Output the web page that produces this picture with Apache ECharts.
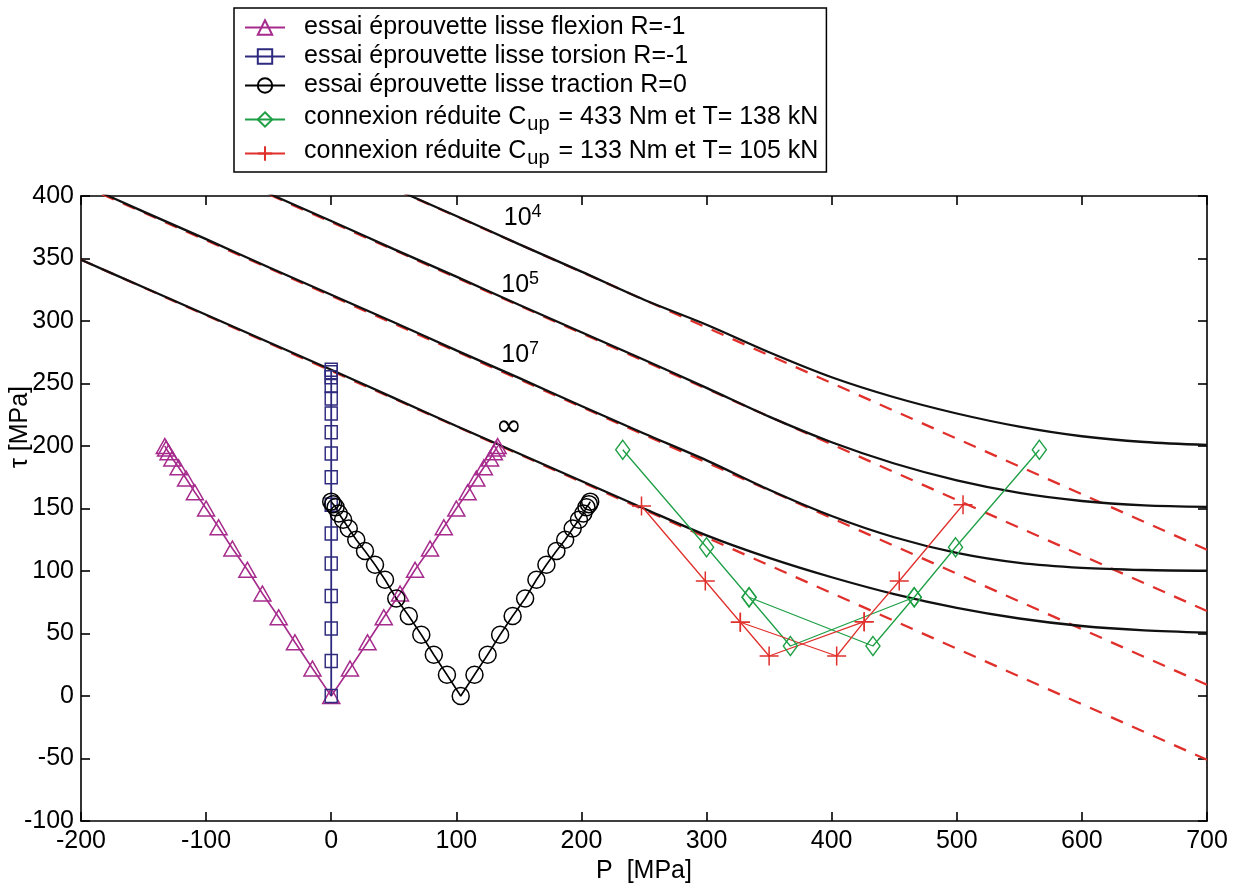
<!DOCTYPE html>
<html><head><meta charset="utf-8">
<script src="https://cdn.jsdelivr.net/npm/echarts@6/dist/echarts.min.js"></script>
<style>html,body{margin:0;padding:0;background:#fff}#c{width:1237px;height:889px}</style>
</head><body><div id="c"></div>
<script>
// ---------- data (P [MPa], tau [MPa]) ----------
const xRange = [-200, 700];
const yRange = [-100, 400];

const flexion = [[-133,200],[-132,198],[-130,195],[-127,190],[-122,183],[-116,174],[-109,163],[-100,150],[-90,135],[-79,118],[-67,101],[-55,82],[-42,63],[-29,43],[-15,22],[0,0],
  [15,22],[29,43],[42,63],[55,82],[67,101],[79,118],[90,135],[100,150],[109,163],[116,174],[122,183],[127,190],[130,195],[132,198],[133,200]];
const torsionTau = [0,28,54,80,106,130,153,175,194,211,226,238,248,255,259,261];
const torsionP = 0;
const traction = [[0,155.5],[1.5,153.5],[3.5,151],[6,146],[9.5,141],[14,134],[20,125],[27,116],[35,105],[43,93],[52,78],[62,64],[72,49],[82,33],[92.5,17],[103.5,0],
  [114.5,17],[125,33],[135,49],[145,64],[155,78],[164,93],[172,105],[180,116],[187,125],[193,134],[198,141],[201.5,146],[204,151],[206,153.5],[207,155.5]];
const green433Main = [[233,197],[300,119],[334,79],[367,40],[466,79],[499,119],[566,197]];
const green433Cross = [[334,79],[433,40],[466,79]];
const red133Main = [[248,152],[299,92],[327,59],[350,32],[426,59.5],[454,92],[505,153]];
const red133Cross = [[327,59],[404,32],[426,59.5]];

// limit curves (black), sampled every 50 MPa, and their linear approximations (red dashed)
const curveP   = [-200,-150,-100,-50,0,50,100,150,200,250,300,350,400,450,500,550,600,650,700];
const curveInf = [349,327,305,283,261,238.5,216,194,172,150,128.5,110.5,95,81.5,70.5,62,56,52.5,50.7];
const curve1e7 = [410,387.5,365.5,343,321,299,276.5,254.5,232,210,188.5,165,144,127,114.5,106.5,102.5,100.8,100.2];
const curve1e5 = [469,446.5,424.5,402,380,357.5,335.5,313,291,269,246.5,223.5,203,186,172.5,162.5,156,152.5,151.3];
const curve1e4 = [517,495,472.5,450,428,406,384,361.5,339.5,317,297,275,255,239,226,215.5,207.8,203.2,200.8];
const dashInf = [[-200,349],[700,-51]];
const dash1e7 = [[-200,409],[700,9]];
const dash1e5 = [[-200,468],[700,68]];
const dash1e4 = [[-200,517],[700,117]];
const curveLabels = [
  {name:'{b|10}{sup|4}', value:[153,382]},
  {name:'{b|10}{sup|5}', value:[151,329]},
  {name:'{b|10}{sup|7}', value:[151,273]},
  {name:'{inf|∞}', value:[142,215]}
];

const names = [
  'essai éprouvette lisse flexion R=-1',
  'essai éprouvette lisse torsion R=-1',
  'essai éprouvette lisse traction R=0',
  'connexion réduite Cup = 433 Nm et T= 138 kN',
  'connexion réduite Cup = 133 Nm et T= 105 kN'
];

// ---------- styling ----------
const FONT = 'Liberation Sans, Arial, Helvetica, sans-serif';
const FS = 25;
const MAGENTA = '#a62b8c', NAVY = '#2e2a7e', GREEN = '#1e9f45', RED = '#e0302c', BLACK = '#000';

const chart = echarts.init(document.getElementById('c'), null, {renderer:'canvas'});

function frameAxis(pos, isX, withLabel, extra) {
  return Object.assign({
    type:'value', position:pos,
    min: isX ? xRange[0] : yRange[0], max: isX ? xRange[1] : yRange[1],
    interval: isX ? 100 : 50,
    axisLine:{show:true, onZero:false, lineStyle:{color:BLACK, width:1.6}},
    axisTick:{show:true, inside:true, length:9, lineStyle:{color:BLACK, width:1.6}},
    axisLabel:{show:withLabel, fontSize:FS, color:BLACK, fontFamily:FONT, margin:isX?8:7},
    splitLine:{show:false}
  }, extra || {});
}

function dataLine(name, data, color, symbol, size, width) {
  return {
    type:'line', name, data, symbol, symbolSize:size, showSymbol:true,
    lineStyle:{color, width},
    itemStyle:{color:'rgba(0,0,0,0)', borderColor:color, borderWidth:1.5},
    emphasis:{disabled:true}, animation:false, z:5
  };
}
function curve(vals) {
  return {type:'line', data:curveP.map((p, i) => [p, vals[i]]), showSymbol:false, symbol:'none', smooth:0.3,
    lineStyle:{color:'#111', width:2.3}, silent:true, z:3, animation:false};
}
function dash(data) {
  return {type:'line', data, showSymbol:false, symbol:'none',
    lineStyle:{color:RED, width:2.3, type:[13,10]}, silent:true, z:2, animation:false};
}

const plus = 'path://M10,0 L10,20 M0,10 L20,10';

const option = {
  animation:false,
  backgroundColor:'#fff',
  textStyle:{fontFamily:FONT},
  grid:{left:81, right:30, top:196, bottom:68, containLabel:false},
  xAxis:[
    frameAxis('bottom', true, true, {name:'P  [MPa]', nameLocation:'middle', nameGap:32,
      nameTextStyle:{fontSize:FS, color:BLACK, fontFamily:FONT}}),
    frameAxis('top', true, false)
  ],
  yAxis:[
    frameAxis('left', false, true),
    frameAxis('right', false, false)
  ],
  legend:{
    data:names, orient:'vertical', left:234, top:8,
    padding:[5,8,4,10], itemGap:0, itemWidth:40, itemHeight:18,
    borderColor:BLACK, borderWidth:1.5, borderRadius:0, backgroundColor:'#fff',
    selectedMode:false,
    formatter: n => {
      const i = n.indexOf('Cup');
      if (i < 0) return n;
      return '{m|' + n.slice(0, i + 1) + '}{s|up}{m|' + n.slice(i + 3) + '}';
    },
    textStyle:{fontSize:FS, lineHeight:29, color:BLACK, fontFamily:FONT, padding:[0,0,0,14],
      rich:{
        m:{fontSize:FS, lineHeight:29, verticalAlign:'top', fontFamily:FONT, color:BLACK},
        s:{fontSize:20, lineHeight:20, padding:[14,2,0,1], verticalAlign:'bottom', fontFamily:FONT, color:BLACK}
      }}
  },
  graphic:[{
    type:'text', x:20, y:427, rotation:Math.PI/2,
    style:{text:'τ [MPa]', fontSize:FS, fontFamily:FONT, fill:BLACK, align:'center', verticalAlign:'middle'}
  }],
  series:[
    dash(dashInf), dash(dash1e7), dash(dash1e5), dash(dash1e4),
    curve(curveInf), curve(curve1e7), curve(curve1e5), curve(curve1e4),
    {type:'scatter', data:curveLabels, symbolSize:0, itemStyle:{color:BLACK}, silent:true, z:6,
      label:{show:true, position:'inside', formatter:p => p.name, color:BLACK, opacity:1, textBorderWidth:0,
        rich:{b:{fontSize:FS, lineHeight:30, fontFamily:FONT, color:BLACK},
              sup:{fontSize:18, lineHeight:4, verticalAlign:'top', fontFamily:FONT, color:BLACK},
              inf:{fontSize:32, lineHeight:30, fontFamily:'DejaVu Sans, '+FONT, color:BLACK}}}},
    dataLine(names[0], flexion, MAGENTA, 'triangle', [17,15], 1.6),
    dataLine(names[1], torsionTau.map(t => [torsionP, t]), NAVY, 'rect', [12,13], 1.8),
    dataLine(names[2], traction, BLACK, 'circle', 17, 1.6),
    dataLine(names[3], green433Main, GREEN, 'diamond', [14,19], 1.3),
    dataLine(names[3], green433Cross, GREEN, 'diamond', [14,19], 1.3),
    dataLine(names[4], red133Main, RED, plus, 19, 1.3),
    dataLine(names[4], red133Cross, RED, plus, 19, 1.3)
  ]
};
chart.setOption(option);
</script>
</body></html>
